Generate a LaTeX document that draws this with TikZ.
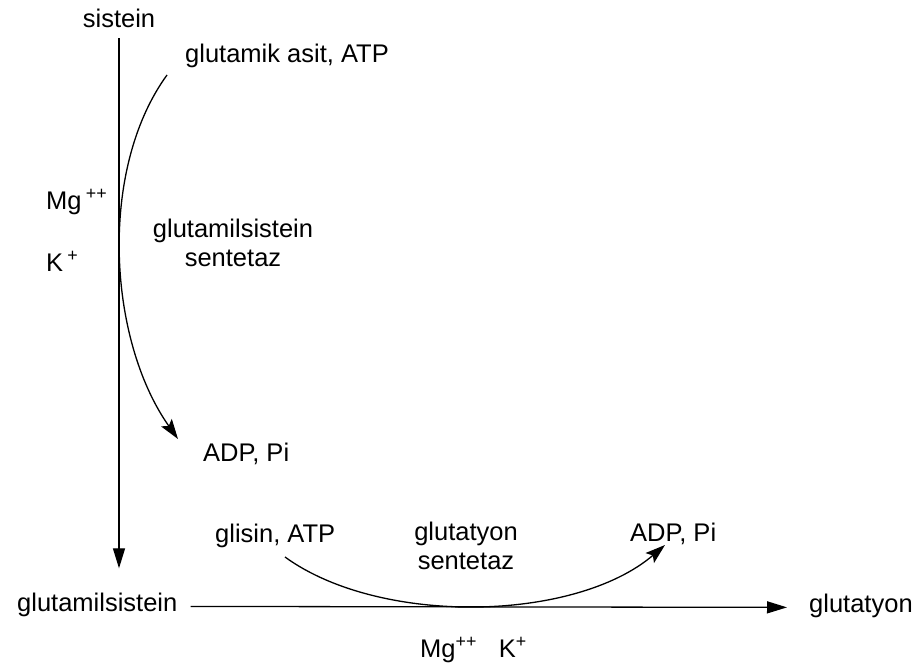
\documentclass[tikz,border=0pt]{standalone}
\usepackage{fontspec}
\setmainfont{Liberation Sans}
\usetikzlibrary{arrows.meta}

\begin{document}
\begin{tikzpicture}[x=1pt,y=-1pt,
  txt/.style={font=\fontsize{25.5}{29}\selectfont,inner sep=3pt},
  enz/.style={txt,align=center},
  flow/.style={line width=1.3pt,-{Triangle[length=20pt,width=12pt]}},
  side/.style={line width=1.3pt,-{Stealth[length=20pt,width=13pt,inset=4pt]}}]
  \useasboundingbox (0,0) rectangle (914,669);

  % Main chain
  \node[txt,anchor=base] (sis) at (119,28) {sistein};
  \node[txt,anchor=base west] (gcys) at (14,611) {glutamilsistein};
  \node[txt,anchor=base west] (gsh) at (806,612) {glutatyon};
  \draw[flow,shorten <=7pt,shorten >=21pt] (sis.south) -- (sis.south |- gcys.north);
  \draw[flow,shorten <=10pt,shorten >=19pt] ([yshift=-2pt]gcys.east) -- ([yshift=-2pt]gsh.west);

  % First step
  \node[txt,anchor=base west] (glu) at (182,63) {glutamik asit, ATP};
  \node[txt,anchor=base west] (mgA) at (43,209) {Mg\,\textsuperscript{++}};
  \node[txt,anchor=base west] (kA) at (43,271) {K\,\textsuperscript{+}};
  \node[enz] (enzA) at (233,243) {glutamilsistein\\sentetaz};
  \node[txt,anchor=base west] (adpA) at (200,461) {ADP, Pi};
  \coordinate (inA) at (167,75);
  \coordinate (outA) at (178,439);
  \draw[side] (inA) .. controls (98,170) and (108,340) .. (outA);

  % Second step
  \node[txt,anchor=base west] (gly) at (212,542) {glisin, ATP};
  \node[enz] (enzB) at (466,546) {glutatyon\\sentetaz};
  \node[txt,anchor=base west] (adpB) at (627,541) {ADP, Pi};
  \node[txt,anchor=base west] (mgB) at (417,657) {Mg\textsuperscript{++}\hspace{22pt}K\textsuperscript{+}};
  \coordinate (inB) at (285,557);
  \coordinate (outB) at (665,545);
  \draw[side] (inB) .. controls (380,626) and (575,622) .. (outB);
\end{tikzpicture}
\end{document}
